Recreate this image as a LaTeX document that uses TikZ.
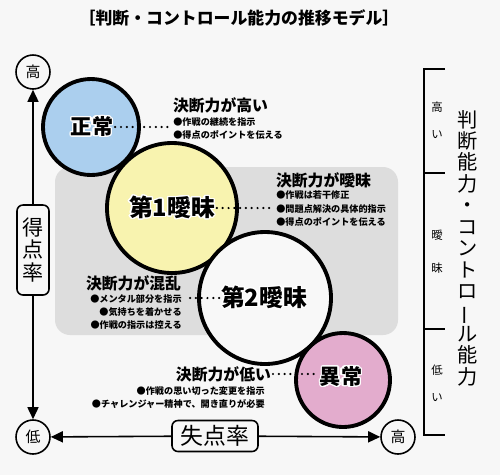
\documentclass[tikz,border=0pt]{standalone}
\usepackage{fontspec}
\setmainfont{Noto Sans CJK JP}
\usepackage{contour}
\contourlength{0.7pt}
\contournumber{24}
\usetikzlibrary{positioning,arrows.meta,calc}

\definecolor{paper}{RGB}{247,247,247}
\definecolor{zonegray}{RGB}{221,221,221}
\definecolor{normalblue}{RGB}{171,207,238}
\definecolor{vagueyellow}{RGB}{248,243,175}
\definecolor{vaguewhite}{RGB}{248,248,248}
\definecolor{lowpink}{RGB}{227,172,205}

\newcommand{\fs}[2]{\fontsize{#1}{#2}\selectfont}
\newcommand{\halo}[1]{\contour{white}{#1}}

\begin{document}
\begin{tikzpicture}[x=0.2mm, y=-0.2mm,
  phase/.style={circle, draw, line width=2.2pt, inner sep=0pt},
  phasetext/.style={font=\fs{13.5}{14}\bfseries, inner sep=1pt},
  head/.style={font=\fs{9}{10}\bfseries, inner sep=1pt},
  items/.style={font=\fs{5.2}{7.4}\bfseries, inner sep=0pt, align=left},
  dots/.style={line width=1.4pt, line cap=round, dash pattern=on 0pt off 3.3pt},
  endmark/.style={circle, draw, line width=0.9pt, fill=paper, minimum size=6.8mm,
                  inner sep=0pt, font=\fs{8.5}{9}},
  axisbox/.style={draw, line width=0.9pt, rounded corners=1.2mm, fill=paper, inner sep=0pt},
  axis/.style={line width=0.9pt, -{Triangle[length=2.4mm,width=2.2mm]}},
  bracket/.style={line width=0.9pt},
  level/.style={font=\fs{6.5}{15.3}, align=center, inner sep=0pt},
]
  \useasboundingbox (0,0) rectangle (500,475);
  \fill[paper] (0,0) rectangle (500,475);

  \node[font=\fs{9.6}{10}\bfseries] (title) at (239,18) {［判断・コントロール能力の推移モデル］};

  % ambiguous zone
  \fill[zonegray, rounded corners=3mm] (55,167) rectangle (398,335);

  % phases
  \node[phase, fill=normalblue, minimum size=19.2mm] (normalC) at (91,127) {};
  \node[phasetext, font=\fs{12}{13}\bfseries] (normal) at (92,127) {\halo{正常}};
  \node[phase, fill=vagueyellow, minimum size=26mm] (vague1C) at (172,208) {};
  \node[phasetext] (vague1) at (172,208) {\halo{第1曖昧}};
  \node[phase, fill=vaguewhite, minimum size=26.4mm] (vague2C) at (265,298) {};
  \node[phasetext] (vague2) at (264,298) {\halo{第2曖昧}};
  \node[phase, fill=lowpink, minimum size=18.8mm] (lowC) at (343,380) {};
  \node[phasetext, font=\fs{12}{13}\bfseries] (low) at (341,377) {\halo{異常}};

  % notes
  \node[head, anchor=west] (highHead) at (171,105) {決断力が高い};
  \node[items, anchor=north west] (highList) at (173,117)
       {●作戦の継続を指示\\●得点のポイントを伝える};
  \draw[dots] (normal.east) -- ([xshift=-1mm]normal.east -| highList.west);

  \node[head, anchor=west] (vagueHead) at (274,180) {決断力が曖昧};
  \node[items, anchor=north west, font=\fs{5.2}{7.9}\bfseries] (vagueList) at (276,190)
       {●作戦は若干修正\\●問題点解決の具体的指示\\●得点のポイントを伝える};
  \draw[dots] (vague1.east) -- ([xshift=-1mm]vague1.east -| vagueList.west);

  \node[head, anchor=west] (mixHead) at (84,283) {決断力が混乱};
  \node[items, align=right, anchor=north east, font=\fs{5.2}{7.6}\bfseries] (mixList) at (182,294)
       {●メンタル部分を指示\\●気持ちを着かせる\\●作戦の指示は控える};
  \draw[dots] (vague2.west) -- ([xshift=1mm]vague2.west -| mixList.east);

  \node[head, anchor=east] (lowHead) at (273,374) {決断力が低い};
  \node[items, align=right, anchor=north east] (lowList) at (265,386)
       {●作戦の思い切った変更を指示\\●チャレンジャー精神で、開き直りが必要};
  \draw[dots] (lowHead.east) -- (lowHead.east -| low.west);

  % axes
  \node[endmark] (yHigh) at (33,72) {高};
  \node[endmark] (yLow) at (33,437) {低};
  \node[endmark] (xHigh) at (398,437) {高};
  \node[axisbox, minimum width=6.4mm, minimum height=18mm, align=center,
        font=\fs{12}{13}] (yName) at (33,250) {得\\点\\率};
  \node[axisbox, minimum width=17.2mm, minimum height=6.2mm,
        font=\fs{13}{14}] (xName) at (215,436) {失点率};
  \draw[axis] (yName) -- (yHigh);
  \draw[axis] (yName) -- (yLow);
  \draw[axis] (xName) -- (yLow);
  \draw[axis] (xName) -- (xHigh);

  % control scale
  \draw[bracket] (445,69) -- (424,69) -- (424,435) -- (445,435);
  \draw[bracket] (424,173) -- (445,173);
  \draw[bracket] (424,329) -- (445,329);
  \node[level] (highLvl) at (437,120) {高\\い};
  \node[level, font=\fs{6.5}{18.7}] (vagueLvl) at (437,252) {曖\\昧};
  \node[level] (lowLvl) at (437,383) {低\\い};
  \node[font=\fs{11.5}{12.2}, align=center, inner sep=0pt] (ctrl) at (468,248)
       {判\\断\\能\\力\\・\\コ\\ン\\ト\\ロ\\\rotatebox[origin=c]{90}{ー}\\ル\\能\\力};
\end{tikzpicture}
\end{document}
